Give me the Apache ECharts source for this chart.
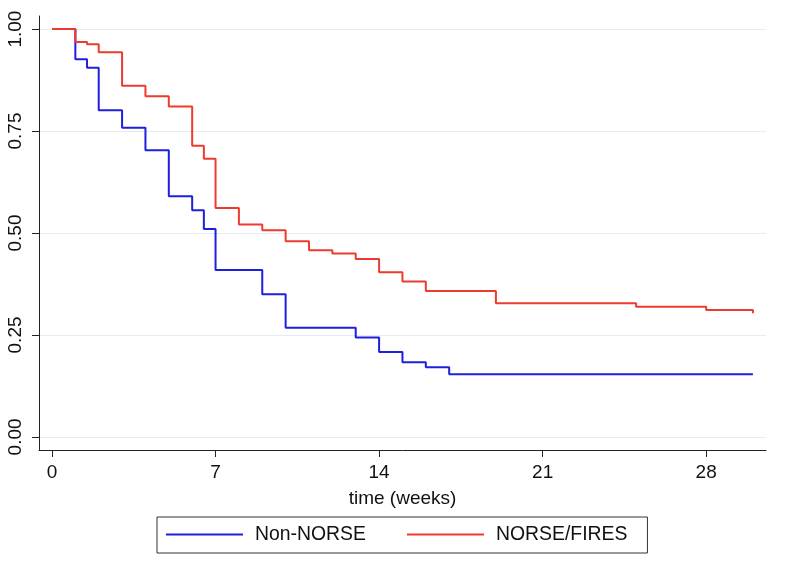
<!DOCTYPE html>
<html>
<head>
<meta charset="utf-8">
<script src="https://cdn.jsdelivr.net/npm/echarts@6/dist/echarts.min.js"></script>
<style>
html,body{margin:0;padding:0;background:#fff;}
#chart{width:787px;height:562px;}
</style>
</head>
<body>
<div id="chart"></div>
<script>
// Kaplan-Meier estimates
const nonNorseTimes  = [0, 1, 1.5, 2, 3, 4, 5, 6, 6.5, 7, 9, 10, 13, 14, 15, 16, 17, 30];
const nonNorseValues = [1.0, 0.926, 0.905, 0.801, 0.758, 0.703, 0.590, 0.556, 0.510, 0.409, 0.350, 0.268, 0.244, 0.208, 0.183, 0.171, 0.154, 0.154];
const norseTimes  = [0, 1, 1.5, 2, 3, 4, 5, 6, 6.5, 7, 8, 9, 10, 11, 12, 13, 14, 15, 16, 19, 25, 28, 30];
const norseValues = [1.0, 0.968, 0.963, 0.943, 0.861, 0.835, 0.810, 0.714, 0.682, 0.561, 0.521, 0.507, 0.480, 0.458, 0.450, 0.436, 0.404, 0.381, 0.358, 0.328, 0.319, 0.311, 0.303];
const xTicks = [0, 7, 14, 21, 28];
const yTicks = [0, 0.25, 0.5, 0.75, 1];
const seriesNames = ['Non-NORSE', 'NORSE/FIRES'];

const zip = (t, v) => t.map((x, i) => [x, v[i]]);
const FONT = 'Liberation Sans, Arial, Helvetica, sans-serif';

const chart = echarts.init(document.getElementById('chart'), null, {renderer: 'canvas'});
chart.setOption({
  animation: false,
  backgroundColor: '#ffffff',
  textStyle: {fontFamily: FONT},
  grid: {left: 39, right: 21, top: 16, bottom: 112, containLabel: false},
  xAxis: {
    type: 'value',
    min: -0.556, max: 30.56,
    name: 'time (weeks)',
    nameLocation: 'middle',
    nameGap: 39,
    nameTextStyle: {fontSize: 19, color: '#111', fontFamily: FONT},
    axisLine: {show: true, onZero: false, lineStyle: {color: '#222', width: 1}},
    axisTick: {show: true, length: 7, lineStyle: {color: '#222', width: 1}, customValues: xTicks},
    axisLabel: {fontSize: 19, color: '#111', margin: 13, fontFamily: FONT, customValues: xTicks},
    splitLine: {show: false}
  },
  yAxis: {
    type: 'value',
    min: -0.032, max: 1.032,
    axisLine: {show: true, onZero: false, lineStyle: {color: '#222', width: 1}},
    axisTick: {show: true, length: 7, lineStyle: {color: '#222', width: 1}, customValues: yTicks},
    axisLabel: {fontSize: 19, color: '#111', margin: 14, rotate: 90, fontFamily: FONT,
      customValues: yTicks, formatter: v => Number(v).toFixed(2)},
    splitLine: {show: true, lineStyle: {color: '#e6ecf1', width: 1}}
  },
  legend: {
    show: true,
    data: seriesNames,
    left: 157, top: 517,
    orient: 'horizontal',
    icon: 'rect',
    itemWidth: 77, itemHeight: 2,
    itemGap: 41,
    padding: [8, 20, 9, 9],
    borderColor: '#333', borderWidth: 1,
    backgroundColor: '#fff',
    textStyle: {fontSize: 19.4, color: '#111', fontFamily: FONT, padding: [0, 0, 0, 7]}
  },
  series: [
    {
      name: seriesNames[0], type: 'line', step: 'end', showSymbol: false, symbol: 'none',
      data: zip(nonNorseTimes, nonNorseValues),
      lineStyle: {color: '#1f1fe0', width: 2}, itemStyle: {color: '#1f1fe0'}
    },
    {
      name: seriesNames[1], type: 'line', step: 'end', showSymbol: false, symbol: 'none',
      data: zip(norseTimes, norseValues),
      lineStyle: {color: '#ee3b30', width: 2}, itemStyle: {color: '#ee3b30'}
    }
  ]
});
</script>
</body>
</html>
